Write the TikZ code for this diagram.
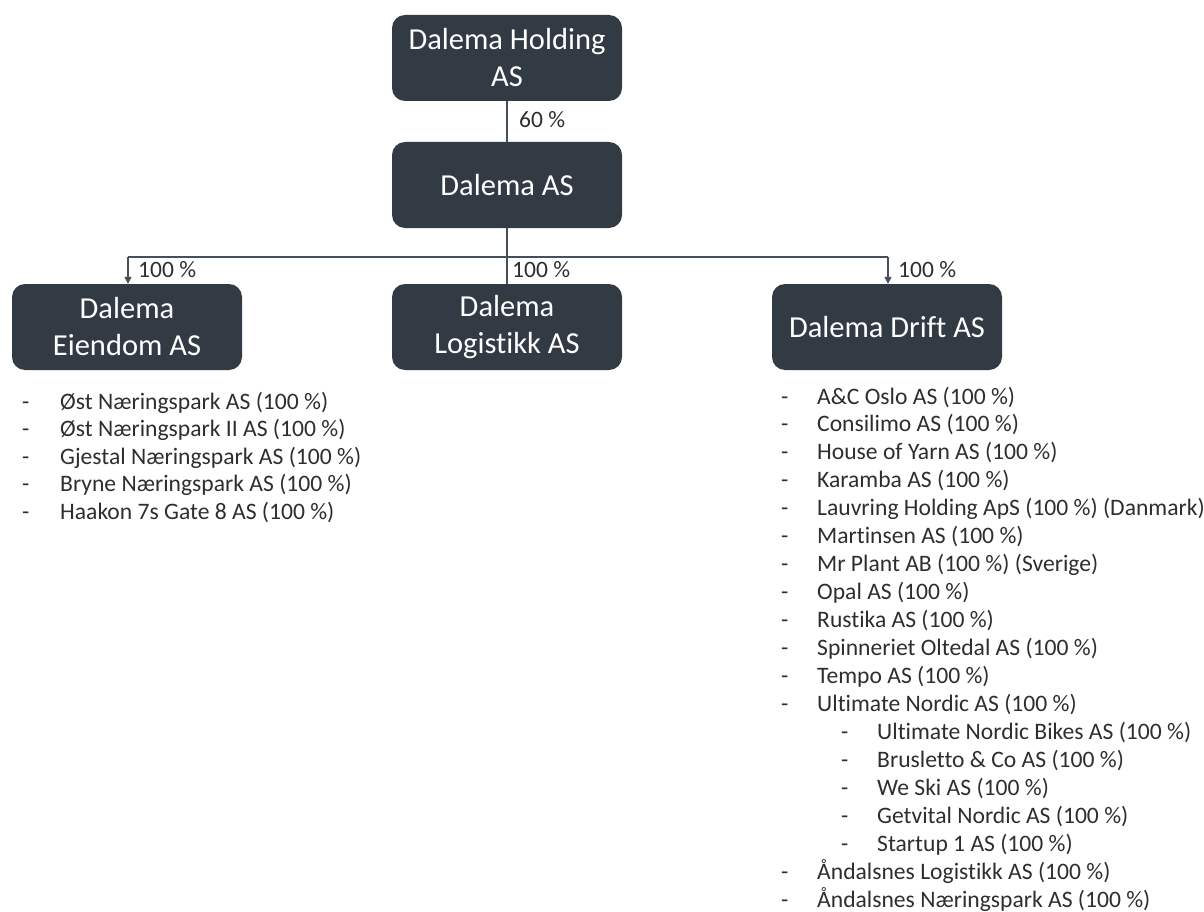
\documentclass[tikz,border=0pt]{standalone}
\usepackage{fontspec}
\setmainfont{Carlito}[Ligatures={NoCommon}]
\usetikzlibrary{arrows.meta}
\definecolor{boxfill}{HTML}{323A44}
\definecolor{linecol}{HTML}{46505A}
\definecolor{txt}{HTML}{2E2E2E}
\begin{document}
\begin{tikzpicture}[x=1pt,y=-1pt,
  orgbox/.style={fill=boxfill,rounded corners=13pt,minimum width=230pt,minimum height=86pt,inner sep=0pt,text=white,align=center,font=\fontsize{30.5}{37}\selectfont},
  conn/.style={draw=linecol,line width=1.2pt},
  thick conn/.style={draw=linecol,line width=2pt},
  pct/.style={anchor=base west,inner sep=0pt,font=\fontsize{23.5}{28}\selectfont,text=txt},
  item/.style={anchor=base west,inner sep=0pt,font=\fontsize{23.6}{28}\selectfont,text=txt},
  tip/.style={-{Triangle[width=7pt,length=7pt]}}]
\path[use as bounding box] (0,0) rectangle (1204,912);

% boxes
\node[orgbox] (hold) at (507,58) {Dalema Holding\\AS};
\node[orgbox] (dal) at (507,185) {Dalema AS};
\node[orgbox] (eien) at (127,327) {Dalema\\Eiendom AS};
\node[orgbox] (logi) at (507,327) {Dalema\\Logistikk AS};
\node[orgbox] (drift) at (887,327) {Dalema Drift AS};

% connectors
\coordinate (junc) at (507,257);
\coordinate (jl) at (128,257);
\coordinate (jr) at (888,257);
\draw[conn] (hold.south) -- (dal.north);
\draw[thick conn] (dal.south) -- (junc);
\draw[conn] (jl) -- (jr);
\draw[conn] (junc) -- (logi.north);
\draw[conn,tip] (jl) -- (jl |- eien.north);
\draw[conn,tip] (jr) -- (jr |- drift.north);

% percentage labels
\node[pct] (p60) at (519,128) {60 \%};
\node[pct] (pl) at (138,277) {100 \%};
\node[pct] (pm) at (512,277) {100 \%};
\node[pct] (pr) at (898,277) {100 \%};

% Eiendom list
\foreach \t [count=\i from 0] in {{Øst Næringspark AS (100 \%)},{Øst Næringspark II AS (100 \%)},{Gjestal Næringspark AS (100 \%)},{Bryne Næringspark AS (100 \%)},{Haakon 7s Gate 8 AS (100 \%)}}
  \node[item] (e\i) at (22,{409+27.6*\i}) {\makebox[38pt][l]{-}\t};

% Drift list
\foreach \t [count=\i from 0] in {{A\&C Oslo AS (100 \%)},{Consilimo AS (100 \%)},{House of Yarn AS (100 \%)},{Karamba AS (100 \%)},{Lauvring Holding ApS (100 \%) (Danmark)},{Martinsen AS (100 \%)},{Mr Plant AB (100 \%) (Sverige)},{Opal AS (100 \%)},{Rustika AS (100 \%)},{Spinneriet Oltedal AS (100 \%)},{Tempo AS (100 \%)},{Ultimate Nordic AS (100 \%)}}
  \node[item] (d\i) at (781,{404+27.95*\i}) {\makebox[36pt][l]{-}\t};
\foreach \t [count=\i from 0] in {{Ultimate Nordic Bikes AS (100 \%)},{Brusletto \& Co AS (100 \%)},{We Ski AS (100 \%)},{Getvital Nordic AS (100 \%)},{Startup 1 AS (100 \%)}}
  \node[item] (s\i) at (841,{404+27.95*(\i+12)}) {\makebox[36pt][l]{-}\t};
\foreach \t [count=\i from 0] in {{Åndalsnes Logistikk AS (100 \%)},{Åndalsnes Næringspark AS (100 \%)}}
  \node[item] (a\i) at (781,{404+27.95*(\i+17)}) {\makebox[36pt][l]{-}\t};
\end{tikzpicture}
\end{document}
